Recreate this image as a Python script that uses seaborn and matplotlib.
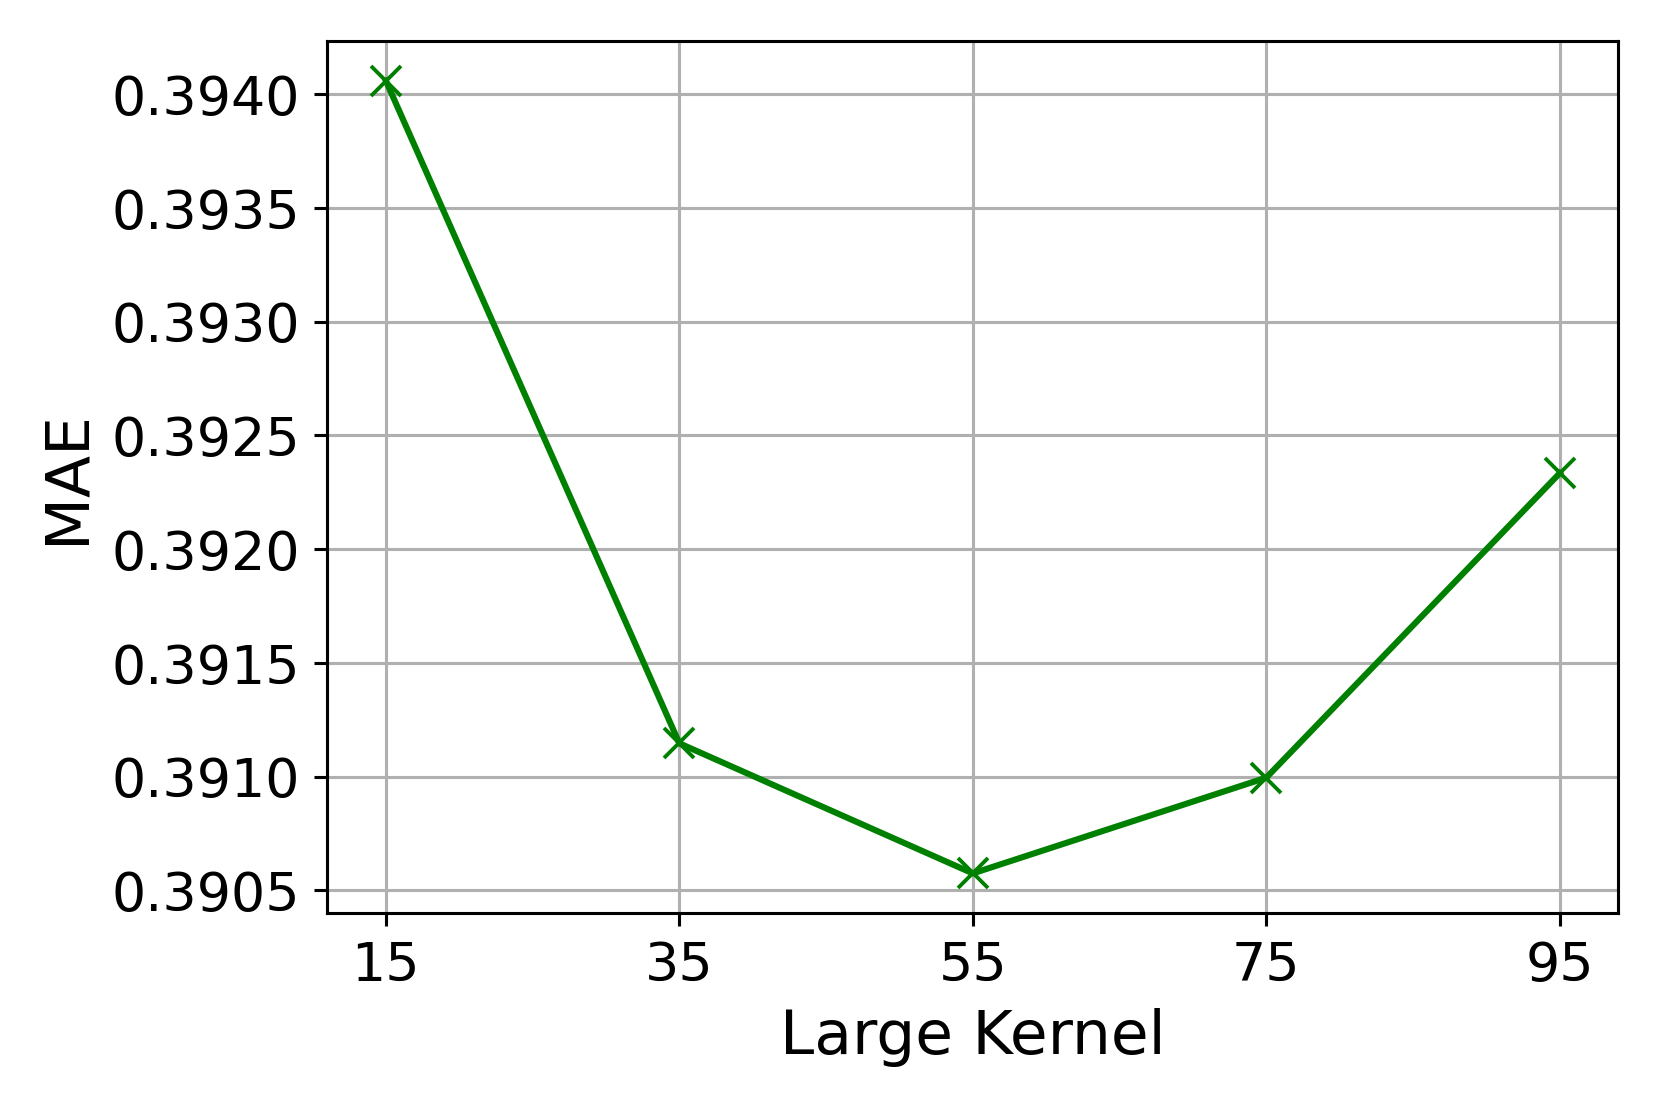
import pandas as pd
import matplotlib
matplotlib.use("Agg")
import matplotlib.pyplot as plt
import seaborn as sns

# Data
kernel_sizes = [15, 35, 55, 75, 95]
mae_values = [0.39406, 0.391146, 0.390574, 0.390995, 0.392334]
y_ticks = [0.3905, 0.3910, 0.3915, 0.3920, 0.3925, 0.3930, 0.3935, 0.3940]

df = pd.DataFrame({"kernel": kernel_sizes, "mae": mae_values})

fig, ax = plt.subplots(figsize=(6, 4), dpi=276.8)
fig.subplots_adjust(left=0.197, right=0.9745, top=0.9627, bottom=0.1752)

sns.lineplot(
    data=df,
    x="kernel",
    y="mae",
    color="green",
    marker="x",
    markersize=8,
    markeredgecolor="green",
    markeredgewidth=1.0,
    linewidth=1.6,
    ax=ax
)

ax.grid(True, color="#b0b0b0", linewidth=0.8)
ax.set_axisbelow(True)

ax.set_xticks(kernel_sizes)
ax.set_yticks(y_ticks)
ax.set_yticklabels([f"{v:.4f}" for v in y_ticks])
ax.tick_params(labelsize=14)

ax.set_xlabel("Large Kernel", fontsize=16)
ax.set_ylabel("MAE", fontsize=16)

fig.savefig("out.png", dpi=276.8)
